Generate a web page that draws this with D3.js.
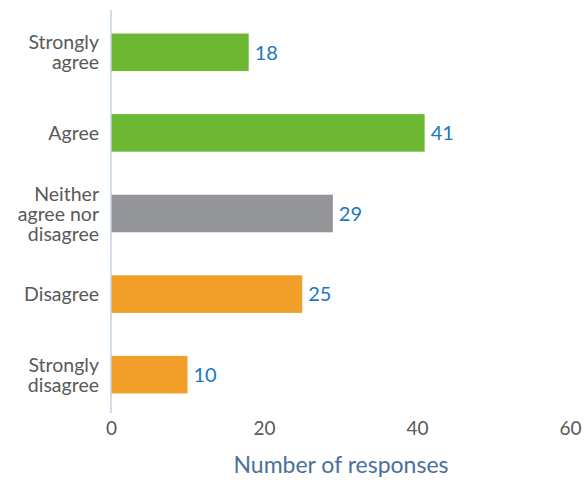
<!DOCTYPE html>
<html>
<head>
<meta charset="utf-8">
<script src="https://cdn.jsdelivr.net/npm/d3@7"></script>
<style>
  body { margin: 0; background: #fff; }
  text { font-family: Lato, "Noto Sans", sans-serif; }
</style>
</head>
<body>
<svg id="chart" width="585" height="483"></svg>
<script>
// answer categories, top to bottom
let categories = ['Strongly agree', 'Agree', 'Neither agree nor disagree', 'Disagree', 'Strongly disagree'];
// label lines as drawn on the axis
let catLines = [['Strongly', 'agree'], ['Agree'], ['Neither', 'agree nor', 'disagree'], ['Disagree'], ['Strongly', 'disagree']];
let responses = [18, 41, 29, 25, 10];
let barColors = ['#6cb833', '#6cb833', '#939598', '#f19f29', '#f19f29'];
let xTicks = [0, 20, 40, 60];
let xTitle = 'Number of responses';

let svg = d3.select('#chart');

let x = d3.scaleLinear()
    .domain([0, 60])
    .range([111, 570]);

let y = d3.scaleBand()
    .domain(categories)
    .range([12, 415])
    .paddingInner(0.534)
    .paddingOuter(0.267);

// bars
svg.append('g')
  .selectAll('rect')
  .data(categories)
  .enter().append('rect')
    .attr('x', x(0))
    .attr('y', function(d) { return y(d); })
    .attr('width', function(d, i) { return x(responses[i]) - x(0); })
    .attr('height', y.bandwidth())
    .attr('fill', function(d, i) { return barColors[i]; });

// value labels
svg.append('g')
  .selectAll('text')
  .data(categories)
  .enter().append('text')
    .attr('x', function(d, i) { return x(responses[i]) + 6; })
    .attr('y', function(d) { return y(d) + y.bandwidth() / 2; })
    .attr('dy', '0.36em')
    .attr('fill', '#2176c1')
    .attr('font-size', 20)
    .text(function(d, i) { return responses[i]; });

// vertical axis line
svg.append('line')
    .attr('x1', x(0)).attr('x2', x(0))
    .attr('y1', 10).attr('y2', 413)
    .attr('stroke', '#c5d1e2')
    .attr('stroke-width', 1.5);

// category labels
let lineH = 20;
let cat = svg.append('g')
  .selectAll('text')
  .data(categories)
  .enter().append('text')
    .attr('text-anchor', 'end')
    .attr('fill', '#595959')
    .attr('font-size', 19.5);

cat.each(function(d, i) {
  let lines = catLines[i];
  let mid = y(d) + y.bandwidth() / 2;
  let top = mid - (lines.length - 1) * lineH / 2;
  d3.select(this).selectAll('tspan')
    .data(lines)
    .enter().append('tspan')
      .attr('x', 99)
      .attr('y', function(l, j) { return top + j * lineH; })
      .attr('dy', '0.36em')
      .text(function(l) { return l; });
});

// x axis tick labels
let xAxis = svg.append('g')
    .attr('transform', 'translate(0,418)')
    .call(d3.axisBottom(x).tickValues(xTicks).tickSize(0).tickPadding(3));
xAxis.select('.domain').remove();
xAxis.selectAll('text')
    .attr('fill', '#595959')
    .attr('font-size', 19)
    .attr('font-family', 'Lato, "Noto Sans", sans-serif');

// axis title
svg.append('text')
    .attr('x', 341)
    .attr('y', 473)
    .attr('text-anchor', 'middle')
    .attr('fill', '#4b6f9a')
    .attr('font-size', 23)
    .text(xTitle);
</script>
</body>
</html>
